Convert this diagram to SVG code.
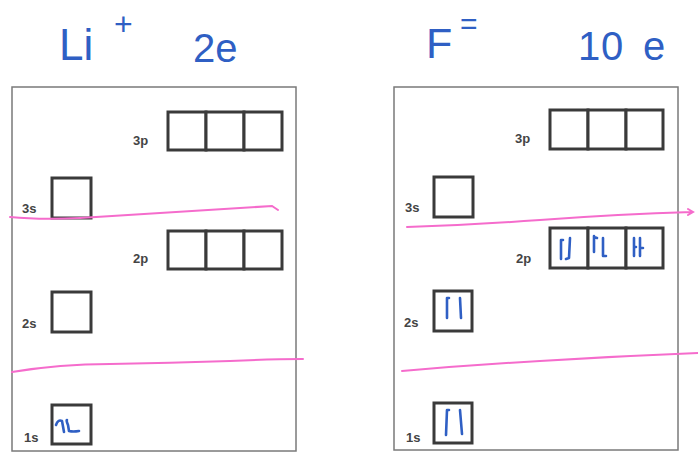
<svg xmlns="http://www.w3.org/2000/svg" width="698" height="460" viewBox="0 0 698 460">
<style>
.panel{fill:#fff;stroke:#7a7a7a;stroke-width:1.5}
.box{fill:#fff;stroke:#3a3a3a;stroke-width:3}
.lbl{font-family:"Liberation Sans",Arial,sans-serif;font-weight:bold;font-size:13px;fill:#444}
.hand{font-family:"Liberation Sans",Arial,sans-serif;fill:#2f5fc4}
.pink{fill:none;stroke:#f56ccc;stroke-width:2;stroke-linecap:round}
.e{fill:none;stroke:#2f5fc4;stroke-width:2.6;stroke-linecap:round;stroke-linejoin:round}
</style>
<rect width="698" height="460" fill="#fff"/>

<g id="title-li">
<text class="hand" x="59" y="60" font-size="44">Li</text>
<text class="hand" x="114" y="35" font-size="32">+</text>
<text class="hand" x="193" y="62" font-size="40">2e</text>
</g>
<g id="title-f">
<text class="hand" x="426" y="58" font-size="43">F</text>
<text class="hand" x="460" y="34" font-size="30">=</text>
<text class="hand" y="60" font-size="40"><tspan x="578">1</tspan><tspan x="601">0</tspan><tspan x="643">e</tspan></text>
</g>

<g id="panel-li">
<rect class="panel" x="12" y="87" width="284" height="364"/>
<g id="li-3p"><text class="lbl" x="133" y="145">3p</text>
<rect class="box" x="168" y="112" width="38" height="38"/><rect class="box" x="206" y="112" width="38" height="38"/><rect class="box" x="244" y="112" width="38" height="38"/></g>
<g id="li-3s"><text class="lbl" x="22" y="213">3s</text><rect class="box" x="52" y="178" width="39" height="40"/></g>
<g id="li-2p"><text class="lbl" x="133" y="263">2p</text>
<rect class="box" x="168" y="231" width="38" height="38"/><rect class="box" x="206" y="231" width="38" height="38"/><rect class="box" x="244" y="231" width="38" height="38"/></g>
<g id="li-2s"><text class="lbl" x="22" y="328">2s</text><rect class="box" x="52" y="292" width="39" height="40"/></g>
<g id="li-1s"><text class="lbl" x="24" y="442">1s</text><rect class="box" x="52" y="405" width="39" height="39"/>
<path class="e" d="M56,425 Q58,419 62,421 L64,432"/>
<path class="e" d="M67,420 Q66,420 68,425 L69,431 Q73,432 79,431"/></g>
</g>

<g id="panel-f">
<rect class="panel" x="394" y="87" width="284" height="363"/>
<g id="f-3p"><text class="lbl" x="515" y="143">3p</text>
<rect class="box" x="550" y="110" width="38" height="39"/><rect class="box" x="588" y="110" width="38" height="39"/><rect class="box" x="626" y="110" width="37" height="39"/></g>
<g id="f-3s"><text class="lbl" x="405" y="212">3s</text><rect class="box" x="434" y="177" width="39" height="40"/></g>
<g id="f-2p"><text class="lbl" x="516" y="263">2p</text>
<rect class="box" x="550" y="228" width="38" height="40"/><rect class="box" x="588" y="228" width="38" height="40"/><rect class="box" x="626" y="228" width="37" height="40"/>
<path class="e" d="M563,240 L561,240 L561,259"/><path class="e" d="M570,238 L569,258 L566,259"/>
<path class="e" d="M594,236 L594,252 M594,237 L597,238"/><path class="e" d="M603,238 L603,256 L606,256"/>
<path class="e" d="M634,238 L634,256 M634,247 L636,247"/><path class="e" d="M640,238 L640,256 M640,248 L643,248"/></g>
<g id="f-2s"><text class="lbl" x="404" y="327">2s</text><rect class="box" x="434" y="291" width="38" height="40"/>
<path class="e" d="M449,298 L447,298 L447,318"/><path class="e" d="M460,298 L461,318"/></g>
<g id="f-1s"><text class="lbl" x="406" y="442">1s</text><rect class="box" x="434" y="403" width="38" height="40"/>
<path class="e" d="M449,410 L447,410 L446,435"/><path class="e" d="M460,410 L462,434"/></g>
</g>

<g id="connectors">
<path class="pink" d="M10,217 Q40,220 80,218 Q180,212 272,206 L278,210"/>
<path class="pink" d="M12,372 Q60,364 110,364 Q170,363 230,361 Q270,359 303,359"/>
<path class="pink" d="M407,227 Q470,225 540,220 Q620,214 692,212 M688,209 L693,212 L688,215"/>
<path class="pink" d="M402,371 Q470,365 540,361 Q620,356 698,353"/>
</g>
</svg>
